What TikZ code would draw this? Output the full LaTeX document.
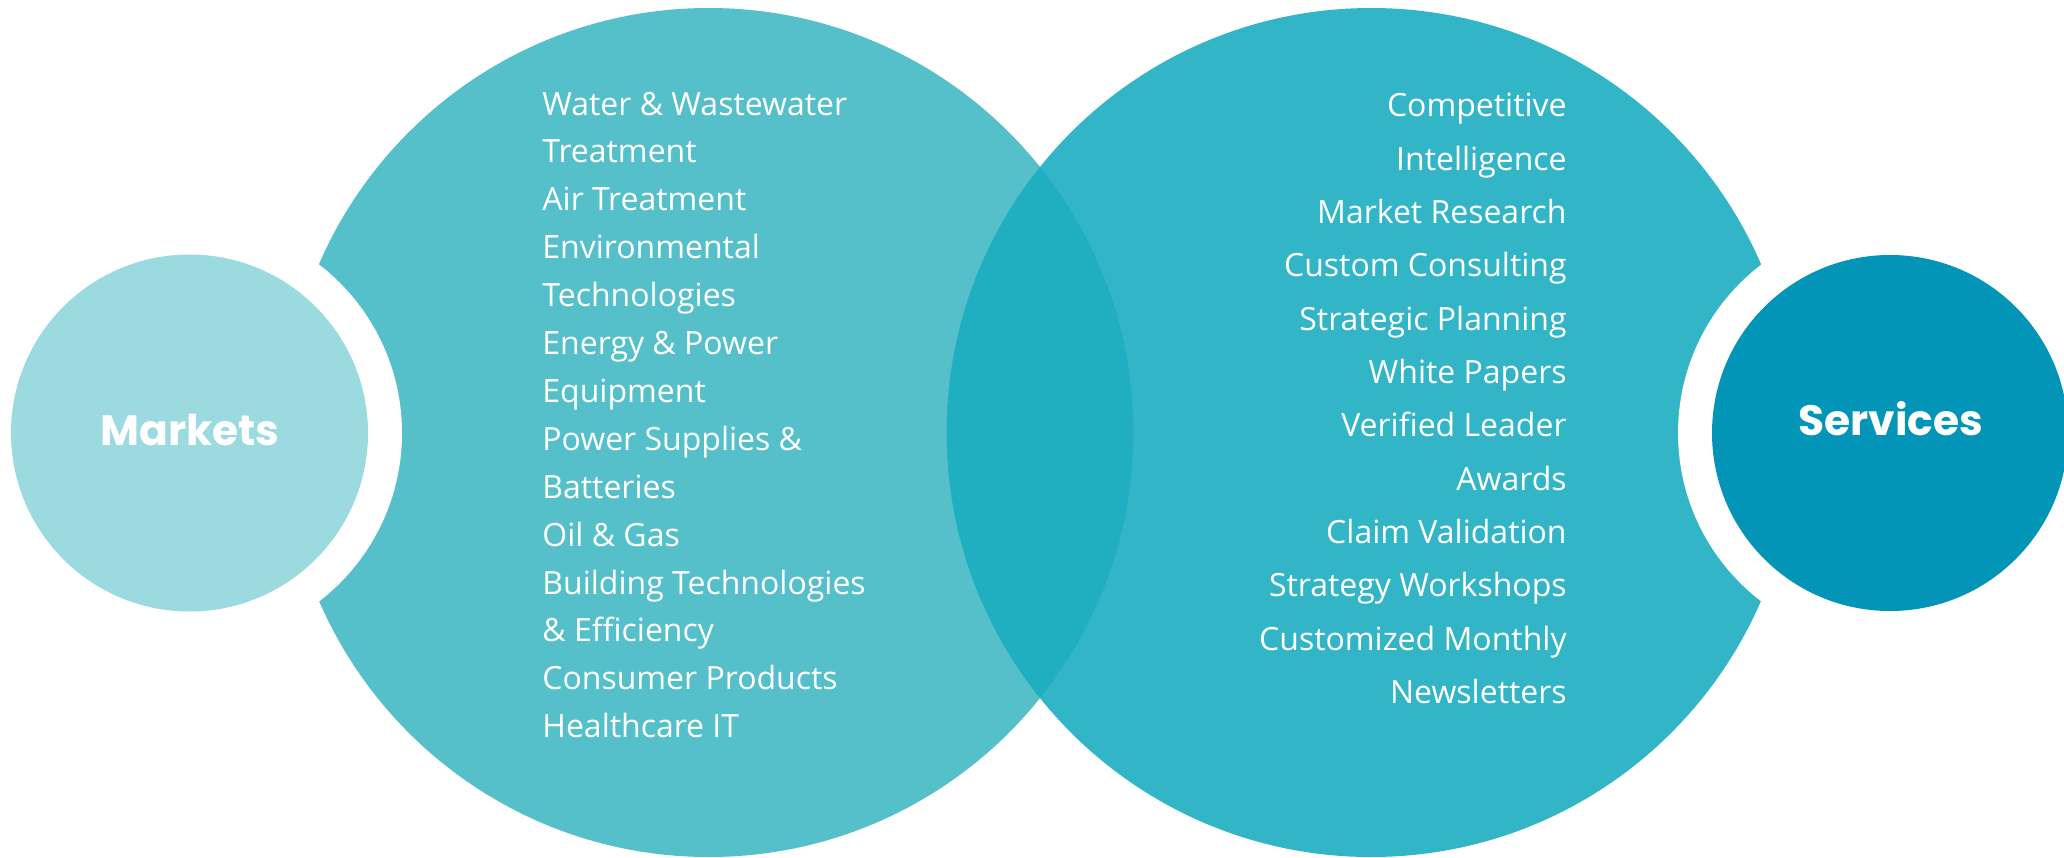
\documentclass[tikz,border=0pt]{standalone}
\usepackage{fontspec}
\setmainfont{Open Sans}
\newfontfamily\popfont{Poppins}
\definecolor{smallL}{HTML}{9BDBE0}
\definecolor{bigL}{HTML}{56C0CA}
\definecolor{bigR}{HTML}{33B5C8}
\definecolor{lens}{HTML}{20AFC0}
\definecolor{smallR}{HTML}{0395B8}
\begin{document}
\begin{tikzpicture}[x=0.5pt,y=-0.5pt,
  listitem/.style={text=white,inner sep=0pt,font=\fontsize{16pt}{20pt}\selectfont},
  hubtext/.style={text=white,inner sep=0pt,font=\popfont\bfseries\fontsize{21.2pt}{26pt}\selectfont}]
\useasboundingbox (0,0) rectangle (2064,857);
\fill[white] (0,0) rectangle (2064,857);
% big circles
\fill[bigL] (708.8,432.5) circle[radius=424.5];
\fill[bigR] (1371.2,432.5) circle[radius=424.5];
\begin{scope}
  \clip (708.8,432.5) circle[radius=424.5];
  \fill[lens] (1371.2,432.5) circle[radius=424.5];
\end{scope}
% white rings
\fill[white] (189.5,433) circle[radius=212.5];
\fill[white] (1890,433) circle[radius=212];
% small circles
\fill[smallL] (189.5,433) circle[radius=178.5];
\fill[smallR] (1890,433) circle[radius=178];
\node[hubtext,anchor=base] (markets) at (190,445) {Markets};
\node[hubtext,anchor=base] (services) at (1890.5,435) {Services};
% markets list
\foreach \t [count=\i] in {Water \& Wastewater,Treatment,Air Treatment,Environmental,Technologies,Energy \& Power,Equipment,Power Supplies \&,Batteries,Oil \& Gas,Building Technologies,\& Efficiency,Consumer Products,Healthcare IT}
  \node[listitem,anchor=base west] (m\i) at (542,{115+47.9*(\i-1)}) {\t};
% services list
\foreach \t [count=\i] in {Competitive,Intelligence,Market Research,Custom Consulting,Strategic Planning,White Papers,Verified Leader,Awards,Claim Validation,Strategy Workshops,Customized Monthly,Newsletters}
  \node[listitem,anchor=base east] (s\i) at (1567,{116.7+53.33*(\i-1)}) {\t};
\end{tikzpicture}
\end{document}
